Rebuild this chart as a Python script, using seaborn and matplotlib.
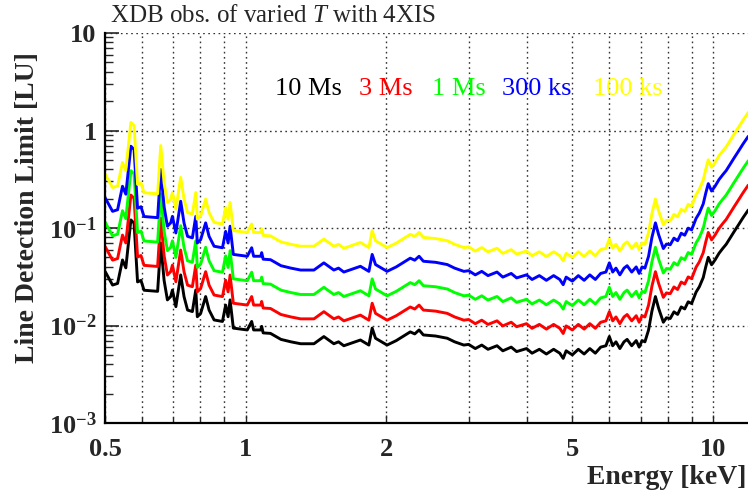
import numpy as np
import pandas as pd
import matplotlib
matplotlib.use("Agg")
import matplotlib.pyplot as plt
import matplotlib.ticker as mticker
import seaborn as sns

# ---- data ----
energy = [0.500, 0.519, 0.532, 0.545, 0.554, 0.568, 0.577, 0.587, 0.597, 0.606,
          0.648, 0.658, 0.669, 0.680, 0.691, 0.697, 0.709, 0.726, 0.738, 0.751,
          0.769, 0.782, 0.788, 0.801, 0.821, 0.835, 0.856, 0.892, 0.906, 0.917,
          0.926, 0.941, 1.008, 1.030, 1.040, 1.077, 1.082, 1.09, 1.13, 1.19,
          1.25, 1.311, 1.40, 1.47, 1.544, 1.58, 1.622, 1.76, 1.835, 1.865,
          1.896, 2.007, 2.10, 2.25, 2.30, 2.35, 2.40, 2.55, 2.70, 2.80,
          2.93, 3.0, 3.1, 3.2, 3.3, 3.45, 3.55, 3.7, 3.8, 3.99,
          4.1, 4.25, 4.4, 4.56, 4.7, 4.78, 4.85, 5.0, 5.15, 5.3,
          5.45, 5.6, 5.75, 5.9, 6.0, 6.1, 6.2, 6.32, 6.45, 6.55,
          6.7, 6.85, 6.95, 7.05, 7.15, 7.28, 7.4, 7.53, 7.65, 7.83,
          7.95, 8.1, 8.25, 8.4, 8.55, 8.7, 8.85, 9.0, 9.2, 9.35,
          9.53, 9.65, 9.77, 9.93, 10.1, 10.3, 10.5, 10.67, 10.9, 11.1,
          11.3, 11.6, 11.9]
limit_10Ms = [0.036, 0.026, 0.027, 0.047, 0.039, 0.121, 0.112, 0.028, 0.029, 0.023,
              0.0224, 0.070, 0.029, 0.0183, 0.0198, 0.0231, 0.0156, 0.033, 0.0198, 0.0144,
              0.0139, 0.0231, 0.0123, 0.0133, 0.0198, 0.0144, 0.0114, 0.0110, 0.0162, 0.0123,
              0.0183, 0.0094, 0.0090, 0.0110, 0.0090, 0.0090, 0.0098, 0.0084, 0.0083, 0.0072,
              0.0068, 0.0065, 0.0065, 0.0077, 0.0065, 0.0068, 0.0062, 0.0071, 0.0063, 0.0094,
              0.0074, 0.0063, 0.0070, 0.0086, 0.0082, 0.0090, 0.0080, 0.0078, 0.0074, 0.0068,
              0.0063, 0.0064, 0.0058, 0.0063, 0.0057, 0.0062, 0.0055, 0.0060, 0.0054, 0.0058,
              0.0052, 0.0057, 0.0051, 0.0057, 0.0052, 0.0046, 0.0055, 0.0050, 0.0057, 0.0051,
              0.0058, 0.0052, 0.0060, 0.0062, 0.0077, 0.0062, 0.0068, 0.0058, 0.0068, 0.0072,
              0.0062, 0.0070, 0.0060, 0.0070, 0.0068, 0.0090, 0.0140, 0.0198, 0.0150, 0.0108,
              0.0120, 0.0118, 0.0138, 0.0130, 0.0155, 0.0148, 0.0175, 0.0168, 0.0220, 0.0250,
              0.0310, 0.0400, 0.0500, 0.0420, 0.0470, 0.0550, 0.0620, 0.0680, 0.0800, 0.0920,
              0.1050, 0.1280, 0.1530]
series_names = ["10 Ms", "3 Ms", "1 Ms", "300 ks", "100 ks"]
series_scale = [1.0, 1.8, 3.2, 5.7, 10.0]   # level relative to 10 Ms curve
series_colors = ["#000000", "#ff0000", "#00ff00", "#0000ff", "#ffff00"]
x_ticks = [0.5, 1, 2, 5, 10]
x_tick_labels = ["0.5", "1", "2", "5", "10"]
x_minor = [0.6, 0.7, 0.8, 0.9, 3, 4, 6, 7, 8, 9]

rows = []
for name, s in zip(series_names, series_scale):
    for e, v in zip(energy, limit_10Ms):
        rows.append({"Energy": e, "Limit": v * s, "series": name})
df = pd.DataFrame(rows)

sns.set_style("ticks")
plt.rcParams["font.family"] = ["Liberation Serif", "DejaVu Serif"]
plt.rcParams["mathtext.fontset"] = "custom"
plt.rcParams["mathtext.rm"] = "Liberation Serif:bold"
plt.rcParams["mathtext.bf"] = "Liberation Serif:bold"
plt.rcParams["mathtext.it"] = "Liberation Serif:italic"

fig = plt.figure(figsize=(7.48, 5.03), dpi=100)
W, H = 748.0, 503.0
ax = fig.add_axes([105 / W, 80 / H, (750 - 105) / W, 390 / H])

sns.lineplot(data=df, x="Energy", y="Limit", hue="series", hue_order=series_names,
             palette=series_colors, legend=False, estimator=None, sort=False,
             linewidth=2.1, ax=ax)

ax.set_xscale("log")
ax.set_yscale("log")
ax.set_xlim(0.5, 12.0)
ax.set_ylim(1e-3, 10)

ax.xaxis.set_major_locator(mticker.FixedLocator(x_ticks))
ax.xaxis.set_major_formatter(mticker.FixedFormatter(x_tick_labels))
ax.xaxis.set_minor_locator(mticker.FixedLocator(x_minor))
ax.xaxis.set_minor_formatter(mticker.NullFormatter())

ax.yaxis.set_major_locator(mticker.LogLocator(base=10, numticks=10))
ax.yaxis.set_minor_locator(mticker.LogLocator(base=10, subs=np.arange(2, 10), numticks=20))
ax.yaxis.set_minor_formatter(mticker.NullFormatter())

def yfmt(v, pos):
    k = int(round(np.log10(v)))
    if k == 0:
        return "1"
    if k == 1:
        return "10"
    return r"$10^{%d}$" % k
ax.yaxis.set_major_formatter(mticker.FuncFormatter(yfmt))

for lab in ax.get_xticklabels() + ax.get_yticklabels():
    lab.set_fontweight("bold")
    lab.set_fontsize(19)

ax.tick_params(axis="y", which="major", direction="in", length=10, width=1.2, pad=6)
ax.tick_params(axis="y", which="minor", direction="in", length=5.5, width=1.0)
ax.tick_params(axis="x", which="major", direction="in", length=6, width=1.0, pad=11)
ax.tick_params(axis="x", which="minor", direction="in", length=4, width=1.0)

ax.grid(True, axis="x", which="both", linestyle=(0, (1.2, 2.5)), color="#333333", linewidth=1.0)
ax.grid(True, axis="y", which="major", linestyle=(0, (1.2, 2.5)), color="#333333", linewidth=1.0)
ax.set_axisbelow(True)

for sp in ["top", "right"]:
    ax.spines[sp].set_visible(False)
for sp in ["left", "bottom"]:
    ax.spines[sp].set_linewidth(1.6)
    ax.spines[sp].set_color("black")

ax.set_xlabel("")
ax.set_ylabel("")

fig.text(110 / W, 1 - 22 / H, r"XDB obs. of varied $T$ with 4XIS", fontsize=18,
         ha="left", va="baseline")
fig.text(28 / W, 1 - 52 / H, "Line Detection Limit [LU]", rotation=90, fontsize=20,
         fontweight="bold", ha="center", va="top")
fig.text(746 / W, 1 - 484 / H, "Energy [keV]", fontsize=20, fontweight="bold",
         ha="right", va="baseline")

legend_x = [275, 359, 432, 502, 593]
for name, col, lx in zip(series_names, series_colors, legend_x):
    fig.text(lx / W, 1 - 95 / H, name, color=col, fontsize=19, ha="left", va="baseline")

fig.savefig("out.png", dpi=100)
